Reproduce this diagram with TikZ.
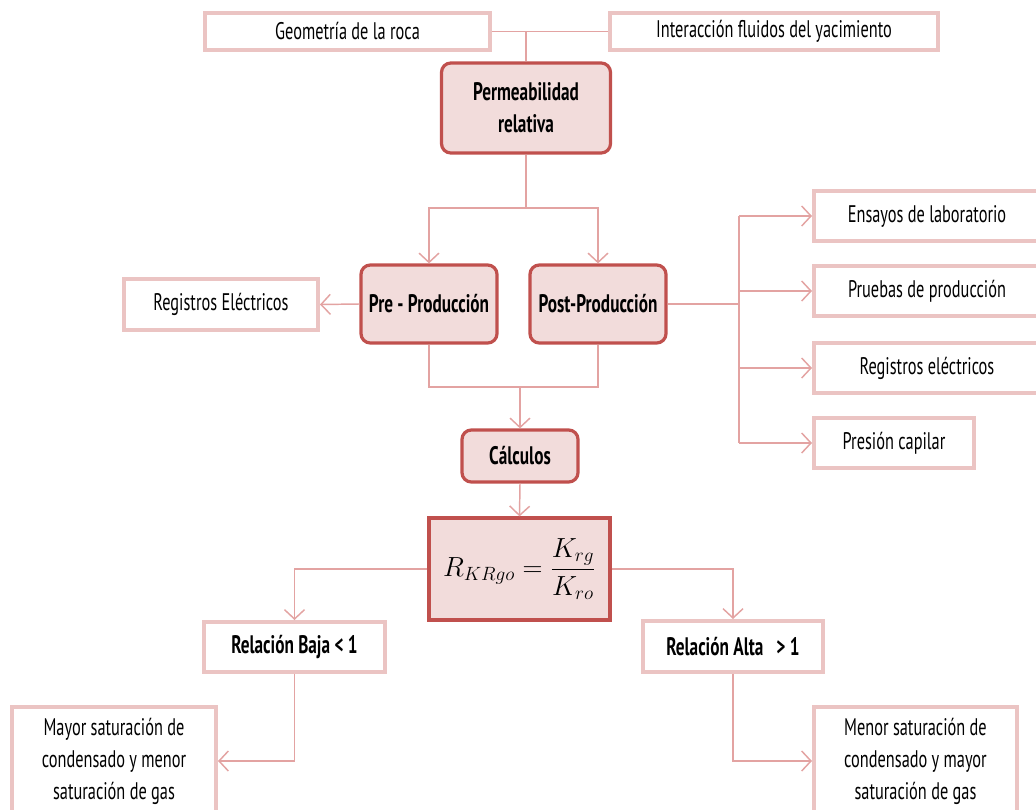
\documentclass[tikz,border=0pt]{standalone}
\usepackage{fontspec}
\setmainfont[FakeStretch=0.68]{PT Sans}
\usetikzlibrary{arrows.meta}

\definecolor{lightedge}{HTML}{EBC4C3}
\definecolor{darkedge}{HTML}{C0504D}
\definecolor{softfill}{HTML}{F2DCDB}
\definecolor{linkpink}{HTML}{E3A3A2}

\tikzset{
  lightbox/.style={draw=lightedge, line width=3pt, fill=white, inner sep=0pt,
    align=center, font=\fontsize{18}{24}\selectfont},
  mainbox/.style={draw=darkedge, line width=2.4pt, fill=softfill, rounded corners=7pt,
    inner sep=0pt, align=center, font=\fontsize{19}{24}\selectfont\bfseries},
  boldlight/.style={lightbox, font=\fontsize{19}{24}\selectfont\bfseries},
  conn/.style={draw=linkpink, line width=1.1pt},
  arr/.style={conn, -{Straight Barb[length=7pt,width=15pt,line width=1.1pt]}},
}

\begin{document}
\begin{tikzpicture}[x=0.75pt,y=-0.75pt]
  \useasboundingbox (0,0) rectangle (1036,810);

  % top inputs
  \node[lightbox, minimum width=213.75pt, minimum height=27.75pt] (geo) at (347.5,31.5) {Geometría de la roca};
  \node[lightbox, minimum width=246pt, minimum height=27.75pt] (inter) at (774,31.5) {Interacción fluidos del yacimiento};

  % central concept
  \node[mainbox, minimum width=126.75pt, minimum height=67.5pt] (perm) at (526,108) {Permeabilidad\\relativa};

  % production stages
  \node[mainbox, minimum width=102pt, minimum height=58.5pt] (pre) at (429,304) {Pre - Producción};
  \node[mainbox, minimum width=102pt, minimum height=58.5pt] (post) at (598,304) {Post-Producción};
  \node[lightbox, minimum width=145.5pt, minimum height=38.25pt] (regE) at (221,304.5) {Registros Eléctricos};

  % post-production sources
  \node[lightbox, minimum width=169.5pt, minimum height=37.5pt] (ens) at (927,216) {Ensayos de laboratorio};
  \node[lightbox, minimum width=169.5pt, minimum height=37.5pt] (prue) at (927,291) {Pruebas de producción};
  \node[lightbox, minimum width=169.5pt, minimum height=37.5pt] (regl) at (927,368) {Registros eléctricos};
  \node[lightbox, minimum width=120pt, minimum height=37.5pt] (pres) at (894,443) {Presión capilar};

  % calculation
  \node[mainbox, minimum width=87pt, minimum height=39pt] (calc) at (520,456) {Cálculos};
  \node[mainbox, rounded corners=0pt, minimum width=135.75pt, minimum height=76.5pt] (form) at (519.5,569)
    {\fontsize{21}{24}\selectfont$\displaystyle R_{KRgo}=\frac{K_{rg}}{K_{ro}}$};

  % outcomes
  \node[boldlight, minimum width=135.75pt, minimum height=37.5pt] (baja) at (294.5,647) {Relación Baja < 1};
  \node[boldlight, minimum width=135pt, minimum height=38.25pt] (alta) at (733,646.5) {Relación Alta ~ > 1};
  \node[lightbox, minimum width=153pt, minimum height=81pt] (mayor) at (114,761)
    {Mayor saturación de\\condensado y menor\\saturación de gas};
  \node[lightbox, minimum width=152.25pt, minimum height=81pt] (menor) at (915.5,761)
    {Menor saturación de\\condensado y mayor\\saturación de gas};

  % connectors
  \coordinate (top) at (526,31.5);
  \draw[conn] (geo.east) -- (inter.west);
  \draw[conn] (top) -- (perm.north);

  \coordinate (split) at (526,208);
  \draw[conn] (perm.south) -- (split);
  \draw[arr] (split) -| (pre.north);
  \draw[arr] (split) -| (post.north);

  \draw[arr] (pre.west) -- (regE.east);

  \coordinate (bus) at (739,304);
  \draw[conn] (post.east) -- (bus);
  \draw[conn] (bus |- ens.west) -- (bus |- pres.west);
  \draw[arr] (bus |- ens.west) -- (ens.west);
  \draw[arr] (bus |- prue.west) -- (prue.west);
  \draw[arr] (bus |- regl.west) -- (regl.west);
  \draw[arr] (bus |- pres.west) -- (pres.west);

  \coordinate (join) at (520,387);
  \draw[conn] (pre.south) |- (join) -| (post.south);
  \draw[arr] (join) -- (calc.north);
  \draw[arr] (calc.south) -- (form.north);

  \draw[arr] (form.west) -| (baja.north);
  \draw[arr] (form.east) -| (alta.north);
  \draw[arr] (baja.south) |- (mayor.east);
  \draw[arr] (alta.south) |- (menor.west);
\end{tikzpicture}
\end{document}
